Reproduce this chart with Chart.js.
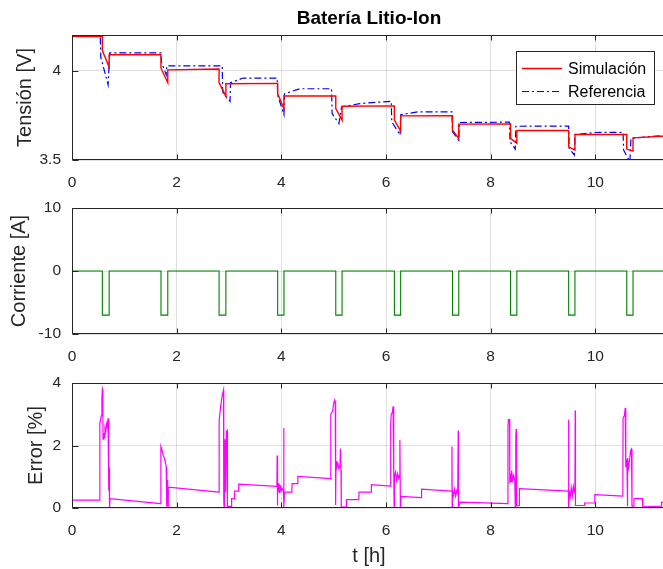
<!DOCTYPE html>
<html>
<head>
<meta charset="utf-8">
<title>Batería Litio-Ion</title>
<script src="https://cdn.jsdelivr.net/npm/chart.js@4.4.1/dist/chart.umd.min.js"></script>
<style>
  html, body { margin: 0; padding: 0; overflow: hidden; background: #fff; width: 663px; height: 569px; }
  canvas { position: absolute; left: 0; top: 0; }
</style>
</head>
<body>
<canvas id="cV" width="666" height="569"></canvas>
<canvas id="cI" width="666" height="569"></canvas>
<canvas id="cE" width="666" height="569"></canvas>
<script>
// ---- Time axis (hours) ----
const tMax = 11.35;
const xTicks = [0, 2, 4, 6, 8, 10];

// ---- Terminal voltage: simulation ----
const tSim = [0, 0.58, 0.58, 0.71, 0.71, 1.70, 1.70, 1.83, 1.83, 2.81, 2.81, 2.94, 2.94,
  3.93, 3.93, 4.05, 4.05, 5.04, 5.04, 5.16, 5.16, 6.16, 6.16, 6.28, 6.28, 7.27, 7.27, 7.39, 7.39,
  8.38, 8.38, 8.50, 8.50, 9.49, 9.49, 9.61, 9.61, 10.60, 10.60, 10.72, 10.72, 11.35];
const vSim = [4.191, 4.191, 4.113, 4.020, 4.089, 4.089, 4.014, 3.933, 4.005, 4.010, 3.933, 3.856, 3.927,
  3.929, 3.871, 3.788, 3.858, 3.858, 3.788, 3.723, 3.801, 3.803, 3.723, 3.662, 3.747, 3.748, 3.667, 3.621, 3.701,
  3.702, 3.621, 3.593, 3.665, 3.665, 3.574, 3.556, 3.643, 3.643, 3.561, 3.550, 3.624, 3.634];

// ---- Terminal voltage: reference ----
const tRef = [0, 0.54, 0.55, 0.69, 0.72, 1.70, 1.71, 1.80, 1.81, 2.87, 2.88, 3.02, 3.03, 3.27, 3.92, 3.93,
  4.05, 4.06, 4.35, 4.96, 4.97, 5.10, 5.15, 5.50, 6.10, 6.11, 6.27, 6.28, 6.60, 7.26, 7.27, 7.39, 7.40,
  8.36, 8.37, 8.47, 8.48, 9.49, 9.50, 9.60, 9.61, 10.00, 10.53, 10.54, 10.66, 10.68, 11.35];
const vRef = [4.196, 4.196, 4.076, 3.921, 4.100, 4.100, 4.048, 3.977, 4.027, 4.027, 3.881, 3.829, 3.933, 3.959, 3.959, 3.862,
  3.754, 3.871, 3.899, 3.899, 3.760, 3.704, 3.797, 3.816, 3.829, 3.714, 3.639, 3.754, 3.769, 3.769, 3.658, 3.611, 3.710,
  3.712, 3.602, 3.561, 3.689, 3.690, 3.565, 3.528, 3.643, 3.654, 3.655, 3.556, 3.490, 3.621, 3.639];
const vTicks = [3.5, 4];

// ---- Current pulses ----
const tCur = [0, 0.58, 0.58, 0.71, 0.71, 1.70, 1.70, 1.83, 1.83, 2.81, 2.81, 2.94, 2.94,
  3.93, 3.93, 4.05, 4.05, 5.04, 5.04, 5.16, 5.16, 6.16, 6.16, 6.28, 6.28, 7.27, 7.27, 7.39, 7.39,
  8.38, 8.38, 8.50, 8.50, 9.49, 9.49, 9.61, 9.61, 10.60, 10.60, 10.72, 10.72, 11.35];
const iCur = [0, 0, -7, -7, 0, 0, -7, -7, 0, 0, -7, -7, 0,
  0, -7, -7, 0, 0, -7, -7, 0, 0, -7, -7, 0, 0, -7, -7, 0,
  0, -7, -7, 0, 0, -7, -7, 0, 0, -7, -7, 0, 0];
const iTicks = [-10, 0, 10];

// ---- Relative error ----
const tErr = [0, 0.53, 0.532, 0.56, 0.572, 0.58, 0.588, 0.593, 0.605, 0.615, 0.63, 0.645, 0.66, 0.675, 0.688,
  0.70, 0.705, 0.71, 0.715, 0.72, 0.728, 1.69, 1.698, 1.72, 1.74, 1.76, 1.78, 1.80, 1.805, 1.81, 1.815,
  1.82, 1.825, 1.83, 1.835, 1.84, 2.81, 2.812, 2.84, 2.87, 2.895, 2.90, 2.905, 2.912, 2.925, 2.935, 2.94,
  2.95, 2.965, 2.97, 3.045, 3.05, 3.10, 3.105, 3.18, 3.185, 3.915, 3.92, 3.925, 3.93, 3.94, 3.95, 3.96,
  3.97, 3.98, 3.99, 4.00, 4.02, 4.04, 4.045, 4.05, 4.06, 4.20, 4.205, 4.31, 4.315, 4.94, 4.945, 4.98,
  5.00, 5.02, 5.03, 5.035, 5.04, 5.045, 5.06, 5.08, 5.10, 5.12, 5.13, 5.14, 5.145, 5.24, 5.245, 5.48,
  5.485, 5.715, 5.72, 6.085, 6.09, 6.10, 6.12, 6.135, 6.145, 6.15, 6.155, 6.16, 6.18, 6.20, 6.22, 6.24,
  6.26, 6.265, 6.275, 6.29, 6.675, 6.68, 7.255, 7.26, 7.265, 7.27, 7.29, 7.31, 7.33, 7.35, 7.37, 7.38,
  7.385, 7.42, 8.325, 8.33, 8.338, 8.36, 8.365, 8.375, 8.39, 8.40, 8.42, 8.44, 8.46, 8.47, 8.48, 8.488,
  8.495, 8.545, 8.55, 9.485, 9.488, 9.492, 9.50, 9.52, 9.54, 9.56, 9.58, 9.60, 9.61, 9.615, 9.62, 9.79,
  9.795, 9.985, 9.99, 10.525, 10.53, 10.555, 10.57, 10.578, 10.585, 10.595, 10.605, 10.612, 10.62, 10.635,
  10.65, 10.675, 10.69, 10.70, 10.735, 10.74, 10.90, 10.905, 11.26, 11.265, 11.35];
const eErr = [0.25, 0.25, 2.70, 2.95, 3.55, 3.81, 3.75, 2.20, 2.40, 2.25, 2.55, 2.45, 2.70, 2.60, 2.87,
  1.50, 0.55, 1.30, 0.30, 0.03, 0.30, 0.14, 1.97, 1.85, 1.70, 1.62, 1.50, 1.31, 0.40, 1.05, 0.05,
  0.90, 0.10, 0.75, 0.05, 0.67, 0.51, 2.80, 3.25, 3.60, 3.78, 0.30, 0.03, 1.00, 2.20, 2.15, 0.50,
  2.45, 2.48, 0.05, 0.05, 0.30, 0.30, 0.54, 0.54, 0.76, 0.69, 1.68, 0.08, 0.75, 0.55, 0.80, 0.50,
  0.75, 0.58, 0.72, 0.55, 0.62, 0.55, 2.56, 0.03, 0.51, 0.51, 0.78, 0.78, 1.01, 0.94, 3.00, 3.10,
  3.35, 3.46, 3.40, 1.68, 0.10, 1.50, 1.30, 1.42, 1.25, 1.32, 1.90, 1.20, 0.03, 0.03, 0.27, 0.27,
  0.51, 0.51, 0.75, 0.70, 2.69, 3.00, 3.05, 3.25, 3.20, 1.20, 0.05, 1.00, 1.15, 0.90, 1.10, 0.95,
  1.05, 2.18, 0.03, 0.37, 0.33, 0.60, 0.54, 1.97, 0.03, 0.55, 0.40, 0.60, 0.38, 0.55, 0.45, 2.48,
  0.03, 0.19, 0.14, 2.60, 2.83, 2.83, 0.78, 1.10, 0.85, 1.20, 0.90, 1.05, 0.90, 0.05, 2.30, 2.53,
  0.08, 0.08, 0.62, 0.54, 2.83, 0.03, 0.55, 0.35, 0.65, 0.40, 0.70, 0.50, 0.72, 3.12, 0.08, 0.08,
  0.16, 0.16, 0.43, 0.38, 2.90, 2.95, 3.20, 3.15, 1.31, 1.55, 1.20, 0.06, 1.60, 1.30,
  1.50, 1.85, 1.89, 0.06, 0.06, 0.30, 0.30, 0.04, 0.06, 0.19, 0.19];
const eTicks = [0, 2, 4];

// ---- Shared styling ----
const FONT = '"Liberation Sans", Arial, Helvetica, sans-serif';
const INK = '#262626';
const GRID = 'rgba(38,38,38,0.15)';

const pts = (xs, ys) => xs.map((x, i) => ({ x: x, y: ys[i] }));

// Axes frame with inward tick marks (left, top and bottom edges)
const framePlugin = {
  id: 'frame',
  afterDatasetsDraw(chart) {
    const { ctx, chartArea: a, scales } = chart;
    const x = scales.x, y = scales.y;
    const L = Math.round(a.left) + 0.5, R = Math.round(a.right) - 0.5;
    const T = Math.round(a.top) + 0.5, B = Math.round(a.bottom) - 0.5;
    ctx.save();
    ctx.strokeStyle = INK;
    ctx.lineWidth = 1;
    ctx.beginPath();
    ctx.moveTo(R, T); ctx.lineTo(L, T); ctx.lineTo(L, B); ctx.lineTo(R, B);
    x.ticks.forEach(t => {
      const px = Math.round(x.getPixelForValue(t.value)) + 0.5;
      ctx.moveTo(px, T); ctx.lineTo(px, T + 5);
      ctx.moveTo(px, B); ctx.lineTo(px, B - 5);
    });
    y.ticks.forEach(t => {
      const py = Math.round(y.getPixelForValue(t.value)) + 0.5;
      ctx.moveTo(L, py); ctx.lineTo(L + 6, py);
    });
    ctx.stroke();
    ctx.restore();
  }
};

// Boxed legend inside the plot area
const legendBoxPlugin = {
  id: 'legendBox',
  afterDraw(chart, args, o) {
    if (!o || !o.show) return;
    const { ctx } = chart;
    ctx.save();
    ctx.fillStyle = '#fff';
    ctx.fillRect(o.x, o.y, o.w, o.h);
    ctx.strokeStyle = INK;
    ctx.lineWidth = 1;
    ctx.strokeRect(o.x + 0.5, o.y + 0.5, o.w, o.h);
    ctx.font = '16px ' + FONT;
    ctx.textBaseline = 'middle';
    chart.data.datasets.forEach((ds, i) => {
      const ry = Math.round(o.y + o.rowTop + i * o.rowGap) + 0.5;
      ctx.strokeStyle = ds.borderColor;
      ctx.lineWidth = ds.borderWidth;
      ctx.setLineDash(ds.borderDash || []);
      ctx.beginPath();
      ctx.moveTo(o.x + 6, ry);
      ctx.lineTo(o.x + 46, ry);
      ctx.stroke();
      ctx.setLineDash([]);
      ctx.fillStyle = '#000';
      ctx.fillText(ds.label, o.x + 52, ry + 1);
    });
    ctx.restore();
  }
};

function makeChart(id, datasets, cfg) {
  return new Chart(document.getElementById(id), {
    type: 'line',
    data: { datasets: datasets },
    plugins: [framePlugin, legendBoxPlugin],
    options: {
      responsive: false,
      animation: false,
      events: [],
      devicePixelRatio: 1,
      layout: { padding: { top: cfg.padTop, bottom: cfg.padBottom, left: 0, right: 0 } },
      elements: { point: { radius: 0 }, line: { tension: 0 } },
      plugins: {
        legend: { display: false },
        tooltip: { enabled: false },
        title: cfg.title ? {
          display: true, text: cfg.title, fullSize: false, color: '#000',
          font: { family: FONT, size: 19, weight: 'bold' },
          padding: { top: 7, bottom: 5.2 }
        } : { display: false },
        legendBox: cfg.legend || { show: false }
      },
      scales: {
        x: {
          type: 'linear', min: 0, max: tMax,
          afterBuildTicks: s => { s.ticks = xTicks.map(v => ({ value: v })); },
          afterFit: s => { s.height = cfg.xHeight; },
          grid: { color: GRID, drawTicks: false },
          border: { display: false },
          ticks: { color: INK, padding: 13, font: { family: FONT, size: 15.5 }, callback: v => String(v) },
          title: cfg.xTitle ? {
            display: true, text: cfg.xTitle, color: INK,
            font: { family: FONT, size: 20 }, padding: { top: 0, bottom: 1 }
          } : { display: false }
        },
        y: {
          type: 'linear', min: cfg.yMin, max: cfg.yMax,
          afterBuildTicks: s => { s.ticks = cfg.yTicks.map(v => ({ value: v })); },
          afterFit: s => { s.width = 72; },
          grid: { color: GRID, drawTicks: false },
          border: { display: false },
          ticks: { color: INK, padding: 11, font: { family: FONT, size: 15.5 }, callback: v => String(v) },
          title: {
            display: true, text: cfg.yTitle, color: INK,
            font: { family: FONT, size: 20 }, padding: { top: cfg.yTitlePad, bottom: 0 }
          }
        }
      }
    }
  });
}

// Voltage
makeChart('cV', [
  { label: 'Simulación', data: pts(tSim, vSim), borderColor: '#ff0000', borderWidth: 1.4 },
  { label: 'Referencia', data: pts(tRef, vRef), borderColor: '#0000ff', borderWidth: 1.2, borderDash: [7, 3, 2, 3] }
], {
  title: 'Batería Litio-Ion', padTop: 0, padBottom: 369, xHeight: 40,
  yMin: 3.5, yMax: 4.2, yTicks: vTicks, yTitle: 'Tensión [V]', yTitlePad: 13,
  legend: { show: true, x: 516, y: 51, w: 138, h: 53, rowTop: 17, rowGap: 23 }
});

// Current
makeChart('cI', [
  { label: 'Corriente', data: pts(tCur, iCur), borderColor: '#008000', borderWidth: 1.1 }
], {
  padTop: 208, padBottom: 195, xHeight: 40,
  yMin: -10, yMax: 10, yTicks: iTicks, yTitle: 'Corriente [A]', yTitlePad: 7
});

// Error
makeChart('cE', [
  { label: 'Error', data: pts(tErr, eErr), borderColor: '#ff00ff', borderWidth: 1.2 }
], {
  padTop: 383, padBottom: 0, xHeight: 61, xTitle: 't [h]',
  yMin: 0, yMax: 4, yTicks: eTicks, yTitle: 'Error [%]', yTitlePad: 24
});
</script>
</body>
</html>
